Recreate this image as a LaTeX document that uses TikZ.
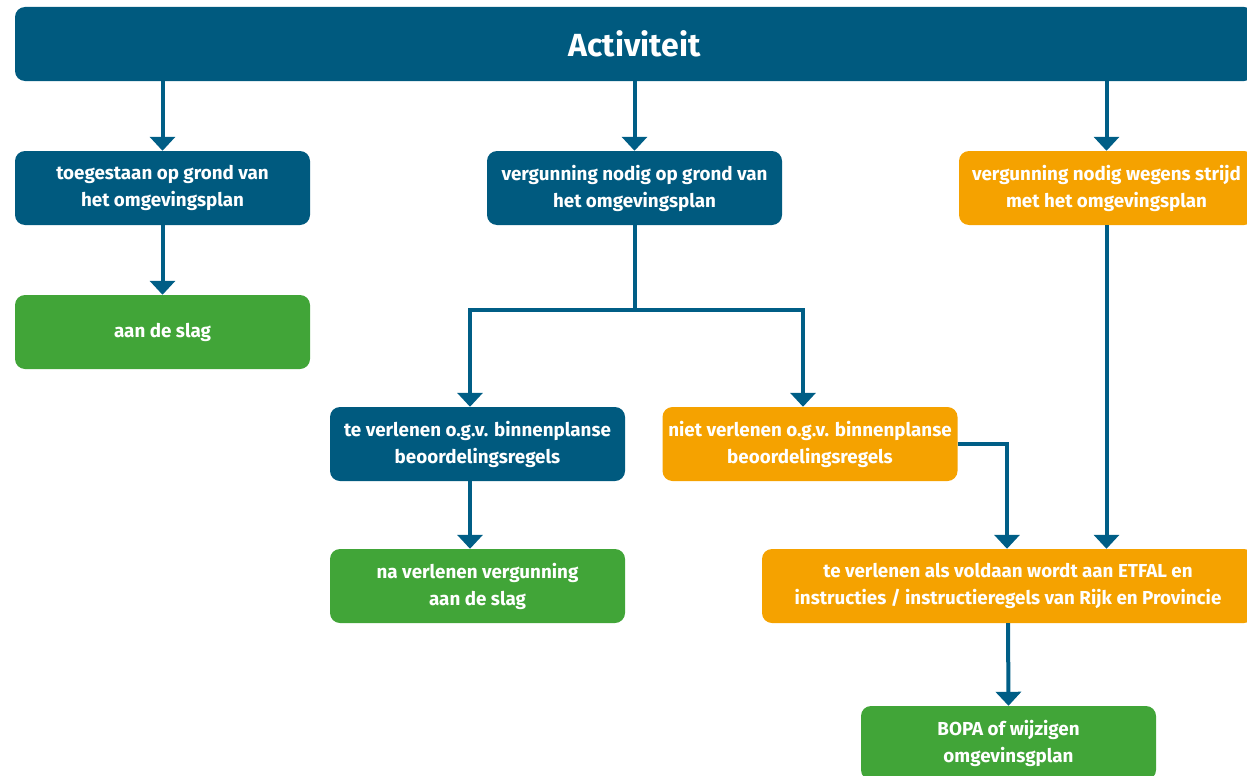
\documentclass[tikz,border=0pt]{standalone}
\usepackage{fontspec}
\setmainfont{Fira Sans}
\usetikzlibrary{arrows.meta,calc}
\definecolor{dblue}{HTML}{005A7F}
\definecolor{lblue}{HTML}{005E86}
\definecolor{orng}{HTML}{F5A200}
\definecolor{grn}{HTML}{41A538}
\begin{document}
\begin{tikzpicture}[x=1pt,y=-1pt,
  box/.style={rounded corners=10pt, minimum width=295pt, minimum height=74pt, inner sep=0pt,
    align=center, text=white, font=\bfseries\fontsize{18.8}{27}\selectfont},
  blu/.style={box, fill=dblue},
  org/.style={box, fill=orng},
  grnbox/.style={box, fill=grn},
  arr/.style={draw=lblue, line width=4pt, -{Triangle[width=25pt,length=14pt]}},
  ln/.style={draw=lblue, line width=4pt}
]
\useasboundingbox (0,0) rectangle (1247,776);
\clip (0,0) rectangle (1247,776);

\node[blu, minimum width=1239pt, font=\bfseries\fontsize{32}{36}\selectfont] (head) at (634.5,44) {Activiteit};

\node[blu] (a1) at (162.5,188) {toegestaan op grond van\\het omgevingsplan};
\node[blu] (a2) at (634.5,188) {vergunning nodig op grond van\\het omgevingsplan};
\node[org] (a3) at (1106.5,188) {vergunning nodig wegens strijd\\met het omgevingsplan};

\node[grnbox] (b1) at (162.5,332) {aan de slag};

\node[blu] (c1) at (477.5,444) {te verlenen o.g.v. binnenplanse\\beoordelingsregels};
\node[org] (c2) at (810,444) {niet verlenen o.g.v. binnenplanse\\beoordelingsregels};

\node[grnbox] (d1) at (477.5,586) {na verlenen vergunning\\aan de slag};

\node[org, minimum width=492pt] (e) at (1008,586) {te verlenen als voldaan wordt aan ETFAL en\\instructies / instructieregels van Rijk en Provincie};

\node[grnbox] (f) at (1008.5,743) {BOPA of wijzigen\\omgevinsgplan};

% connectors
\draw[arr] (head.south -| a1.north) -- (a1.north);
\draw[arr] (head.south -| a2.north) -- (a2.north);
\draw[arr] (head.south -| a3.north) -- (a3.north);
\draw[arr] (a1.south) -- (b1.north);

\coordinate (split) at ($(a2.south)+(0,85)$);
\coordinate (c1in) at ($(c1.north)+(-7.5,0)$);
\coordinate (c2in) at ($(c2.north)+(-7,0)$);
\draw[ln] (a2.south) -- (split);
\draw[arr] (split) -| (c1in);
\draw[arr] (split) -| (c2in);

\draw[arr] (c1in |- c1.south) -- (c1in |- d1.north);

\draw[arr] (c2.east) -| ($(e.north)+(-1,0)$);
\draw[arr] (a3.south) -- (a3.south |- e.north);

\draw[arr] (e.south) -- (f.north);
\end{tikzpicture}
\end{document}
